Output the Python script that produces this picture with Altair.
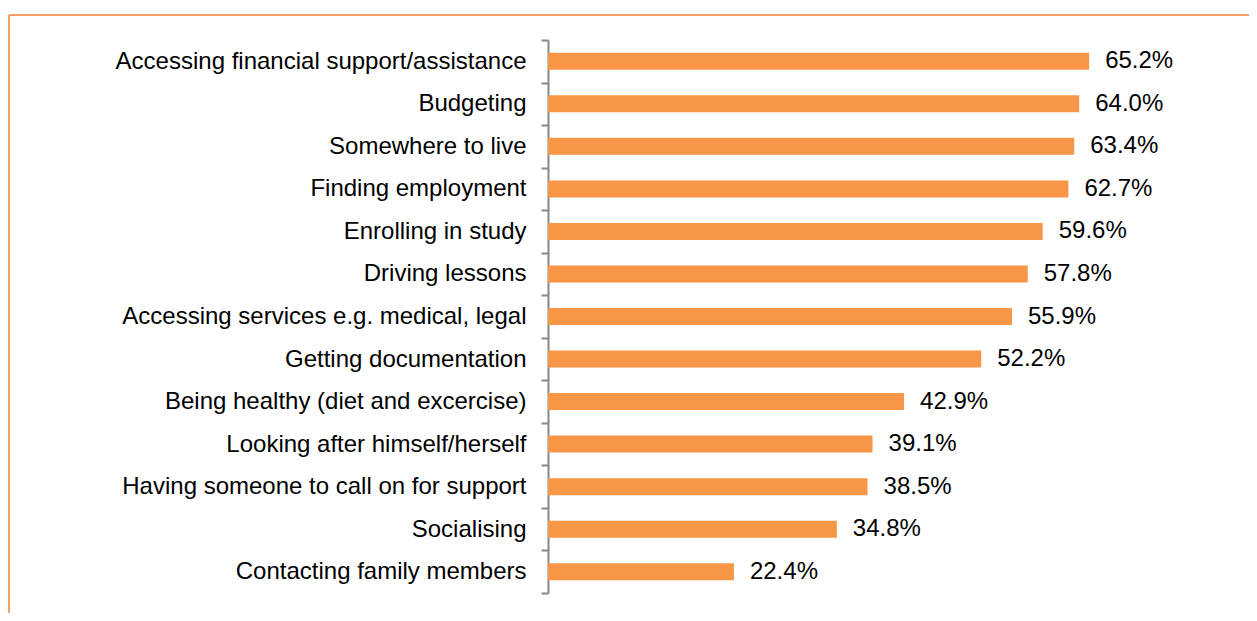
import altair as alt
import pandas as pd

categories = [
    "Accessing financial support/assistance",
    "Budgeting",
    "Somewhere to live",
    "Finding employment",
    "Enrolling in study",
    "Driving lessons",
    "Accessing services e.g. medical, legal",
    "Getting documentation",
    "Being healthy (diet and excercise)",
    "Looking after himself/herself",
    "Having someone to call on for support",
    "Socialising",
    "Contacting family members",
]
values = [65.2, 64.0, 63.4, 62.7, 59.6, 57.8, 55.9, 52.2, 42.9, 39.1, 38.5, 34.8, 22.4]

df = pd.DataFrame({"item": categories, "share": [v / 100 for v in values]})

FONT = "Liberation Sans, Arial, sans-serif"
ORANGE = "#F79646"
PLOT_W = 581
PLOT_H = 553

y_enc = alt.Y(
    "item:N",
    sort=categories,
    scale=alt.Scale(paddingInner=0, paddingOuter=0),
    axis=alt.Axis(
        title=None,
        tickBand="extent",
        domainColor="#878787",
        domainWidth=2,
        tickColor="#878787",
        tickWidth=2,
        tickSize=7,
        labelPadding=15,
        labelFontSize=24,
        labelFont=FONT,
        labelColor="#000000",
        labelLimit=700,
        grid=False,
    ),
)
x_enc = alt.X("share:Q", scale=alt.Scale(domain=[0, 0.7]), axis=None)

bars = alt.Chart(df).mark_bar(color=ORANGE, height={"band": 0.4}).encode(x=x_enc, y=y_enc)

text = alt.Chart(df).mark_text(
    align="left", baseline="middle", dx=16, fontSize=24, font=FONT, color="#000000"
).encode(x=x_enc, y=y_enc, text=alt.Text("share:Q", format=".1%"))

frame_data = pd.DataFrame({"k": [0]})
top_line = alt.Chart(frame_data).mark_rule(color="#F8A062", strokeWidth=2).encode(
    x=alt.value(-539), x2=alt.value(720), y=alt.value(-25)
)
left_line = alt.Chart(frame_data).mark_rule(color="#F8A062", strokeWidth=2).encode(
    x=alt.value(-539), y=alt.value(-25), y2=alt.value(600)
)

chart = (
    alt.layer(top_line, left_line, bars, text)
    .properties(
        width=PLOT_W,
        height=PLOT_H,
        autosize=alt.AutoSizeParams(type="none"),
        padding={"left": 540, "top": 32, "right": 120, "bottom": 20},
        background="white",
    )
    .configure_view(strokeWidth=0, stroke="transparent")
)

chart.save("out.html", embed_options={"renderer": "svg", "actions": False})
